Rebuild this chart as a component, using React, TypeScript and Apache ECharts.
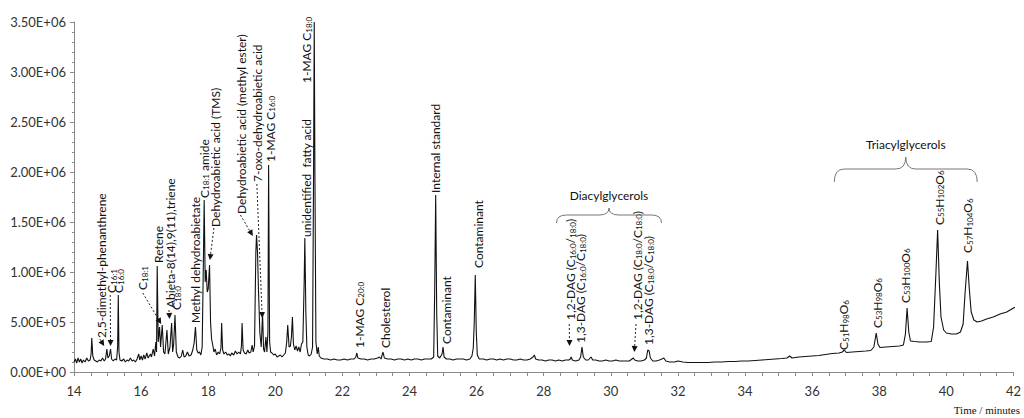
import React, { useEffect, useRef } from "react";
import * as echarts from "echarts";

// ---- DATA (intensity values in units of 1e5 counts) ----
const UNIT = 1e5;
const xTicks = [14, 16, 18, 20, 22, 24, 26, 28, 30, 32, 34, 36, 38, 40, 42];
const yMax = 3.5e6;

const traceResinAcids: [number, number][] = [
  [14.0, 1.0], [14.04, 1.3], [14.08, 0.9], [14.12, 1.4], [14.16, 1.0], [14.2, 1.3], [14.24, 0.9], [14.28, 1.2],
  [14.33, 1.0], [14.38, 1.4], [14.43, 1.1], [14.48, 1.2], [14.51, 1.8], [14.53, 3.4], [14.56, 1.6], [14.6, 1.2],
  [14.65, 1.1], [14.7, 1.0], [14.75, 1.2], [14.8, 1.1], [14.85, 1.4], [14.9, 1.1], [14.94, 1.3], [14.98, 2.3],
  [15.01, 1.4], [15.05, 1.6], [15.09, 2.3], [15.12, 1.3], [15.17, 1.1], [15.22, 1.3], [15.27, 1.2], [15.3, 2.5],
  [15.32, 7.7], [15.34, 2.0], [15.37, 1.2], [15.42, 1.1], [15.48, 1.3], [15.53, 1.0], [15.58, 1.2], [15.63, 1.1],
  [15.68, 1.4], [15.73, 1.1], [15.78, 1.2], [15.83, 1.0], [15.88, 1.3], [15.93, 1.8], [15.96, 1.2], [16.0, 1.6],
  [16.04, 1.2], [16.08, 1.7], [16.12, 1.3], [16.17, 1.9], [16.21, 1.4], [16.28, 1.8], [16.31, 1.5], [16.36, 2.3],
  [16.4, 1.6], [16.44, 3.0], [16.46, 2.0], [16.48, 10.6], [16.51, 3.0], [16.55, 4.5], [16.58, 2.5], [16.63, 4.7],
  [16.67, 2.0], [16.71, 1.8], [16.77, 4.2], [16.81, 1.8], [16.86, 2.5], [16.91, 4.9], [16.94, 2.0], [16.97, 2.8],
  [17.01, 5.7], [17.05, 2.0], [17.1, 1.5], [17.15, 1.4], [17.2, 1.6], [17.24, 2.2], [17.28, 1.5], [17.33, 1.6],
  [17.38, 2.0], [17.43, 1.6], [17.49, 1.7], [17.54, 2.2], [17.58, 2.9], [17.62, 4.5], [17.66, 2.2], [17.7, 1.9],
  [17.74, 2.0], [17.78, 1.7], [17.82, 2.5], [17.86, 12.0], [17.88, 17.2], [17.91, 9.0], [17.94, 10.2], [17.97, 8.0],
  [18.0, 8.3], [18.04, 10.7], [18.07, 5.0], [18.1, 3.3], [18.13, 2.8], [18.17, 2.0], [18.21, 2.3], [18.25, 1.7],
  [18.3, 2.0], [18.34, 1.8], [18.38, 2.4], [18.4, 4.9], [18.43, 2.2], [18.47, 1.8], [18.52, 2.0], [18.57, 1.7],
  [18.62, 1.8], [18.66, 1.6], [18.7, 1.9], [18.76, 1.7], [18.81, 2.1], [18.86, 1.8], [18.91, 2.0], [18.96, 1.8],
  [18.99, 2.6], [19.01, 4.9], [19.04, 2.2], [19.08, 1.9], [19.13, 1.8], [19.18, 2.2], [19.22, 1.9], [19.27, 2.0],
  [19.31, 2.7], [19.34, 2.0], [19.38, 2.6], [19.42, 12.0], [19.44, 13.7], [19.47, 11.9], [19.5, 8.0], [19.54, 3.9],
  [19.58, 2.5], [19.62, 5.9], [19.65, 2.3], [19.68, 2.0], [19.72, 3.5], [19.75, 2.0], [19.78, 4.0], [19.8, 20.7],
  [19.83, 3.0], [19.86, 2.0], [19.9, 1.9], [19.95, 1.7], [20.0, 1.8], [20.05, 1.5], [20.1, 1.6], [20.15, 1.7],
  [20.2, 1.5], [20.25, 1.7], [20.3, 1.9], [20.34, 3.0], [20.37, 4.7], [20.41, 2.5], [20.45, 2.6], [20.48, 3.5],
  [20.51, 5.5], [20.54, 2.8], [20.58, 2.2], [20.62, 2.6], [20.66, 2.1], [20.7, 2.5], [20.74, 2.0], [20.78, 2.8],
  [20.82, 3.0], [20.86, 9.0], [20.88, 13.4], [20.91, 6.0], [20.94, 2.5], [20.98, 1.7], [21.02, 1.6], [21.07, 1.8],
  [21.11, 2.5], [21.14, 20.0], [21.16, 35.0], [21.18, 20.0], [21.21, 3.0], [21.25, 1.8], [21.28, 2.5], [21.31, 1.6],
  [21.36, 1.4],
];

const traceMiddle: [number, number][] = [
  [21.45, 1.3], [21.55, 1.3], [21.65, 1.2], [21.75, 1.3], [21.85, 1.2], [21.95, 1.2], [22.05, 1.3], [22.15, 1.2],
  [22.25, 1.3], [22.35, 1.3], [22.4, 1.5], [22.43, 1.9], [22.46, 1.4], [22.55, 1.3], [22.65, 1.3], [22.75, 1.2],
  [22.85, 1.3], [22.95, 1.3], [23.05, 1.4], [23.1, 1.5], [23.15, 1.3], [23.21, 2.0], [23.25, 1.4], [23.35, 1.3],
  [23.45, 1.3], [23.55, 1.2], [23.65, 1.3], [23.75, 1.3], [23.85, 1.2], [23.95, 1.3], [24.05, 1.2], [24.15, 1.3],
  [24.25, 1.3], [24.35, 1.2], [24.45, 1.3], [24.55, 1.3], [24.65, 1.3], [24.72, 1.5], [24.75, 8.0], [24.78, 17.7],
  [24.81, 6.0], [24.84, 1.6], [24.9, 1.4], [24.97, 1.8], [25.0, 2.5], [25.03, 1.5], [25.1, 1.3], [25.2, 1.3],
  [25.3, 1.2], [25.4, 1.3], [25.5, 1.3], [25.6, 1.3], [25.7, 1.2], [25.8, 1.3], [25.86, 1.6], [25.9, 2.4],
  [25.93, 5.0], [25.96, 9.7], [25.99, 4.0], [26.02, 1.7], [26.08, 1.3], [26.2, 1.3], [26.3, 1.2], [26.4, 1.3],
  [26.5, 1.3], [26.6, 1.2], [26.7, 1.3], [26.8, 1.2], [26.9, 1.3], [27.0, 1.3], [27.1, 1.2], [27.2, 1.2],
  [27.3, 1.3], [27.4, 1.2], [27.5, 1.2], [27.6, 1.3], [27.68, 1.5], [27.72, 1.7], [27.76, 1.3], [27.85, 1.2],
  [27.95, 1.2], [28.05, 1.1], [28.15, 1.2], [28.25, 1.2], [28.35, 1.1], [28.45, 1.2], [28.55, 1.1], [28.65, 1.2],
  [28.75, 1.2], [28.79, 1.3], [28.82, 1.5], [28.85, 1.2], [28.95, 1.1], [29.05, 1.2], [29.1, 1.5], [29.14, 2.5],
  [29.18, 1.5], [29.25, 1.2], [29.33, 1.2], [29.41, 1.5], [29.46, 1.2], [29.55, 1.2], [29.65, 1.1], [29.75, 1.1],
  [29.85, 1.2], [29.95, 1.1], [30.05, 1.1], [30.15, 1.2], [30.25, 1.1], [30.35, 1.1], [30.45, 1.1], [30.55, 1.1],
  [30.63, 1.3], [30.67, 1.4], [30.71, 1.2], [30.8, 1.1], [30.9, 1.1], [31.0, 1.2], [31.06, 1.4], [31.1, 2.2],
  [31.14, 2.1], [31.18, 1.4], [31.25, 1.1], [31.35, 1.1], [31.45, 1.2], [31.52, 1.3], [31.58, 1.4], [31.64, 1.1],
  [31.75, 1.0], [31.9, 1.0],
];

const traceTriacylglycerols: [number, number][] = [
  [32.0, 1.1], [32.15, 1.0], [32.3, 0.95], [32.5, 0.95], [32.7, 0.95], [32.9, 0.95], [33.1, 1.0], [33.3, 1.0],
  [33.5, 1.05], [33.7, 1.05], [33.9, 1.1], [34.1, 1.1], [34.3, 1.15], [34.5, 1.2], [34.7, 1.25], [34.9, 1.3],
  [35.1, 1.35], [35.25, 1.4], [35.33, 1.6], [35.4, 1.4], [35.6, 1.5], [35.8, 1.55], [36.0, 1.6], [36.2, 1.65],
  [36.4, 1.75], [36.6, 1.85], [36.8, 1.9], [36.9, 2.0], [36.96, 2.2], [37.02, 1.95], [37.2, 2.0], [37.4, 2.05],
  [37.6, 2.1], [37.75, 2.15], [37.84, 2.5], [37.91, 3.9], [37.96, 2.8], [38.02, 2.45], [38.2, 2.5], [38.4, 2.55],
  [38.6, 2.6], [38.72, 2.7], [38.78, 3.8], [38.83, 6.4], [38.88, 4.0], [38.93, 3.1], [39.05, 3.05], [39.2, 3.0],
  [39.4, 3.0], [39.55, 3.05], [39.62, 4.5], [39.69, 10.0], [39.74, 14.2], [39.79, 9.0], [39.84, 5.5], [39.92, 4.2],
  [40.0, 3.9], [40.15, 3.8], [40.3, 3.8], [40.42, 4.0], [40.5, 4.8], [40.56, 8.0], [40.63, 11.1], [40.68, 8.5],
  [40.74, 6.0], [40.82, 5.2], [40.92, 5.0], [41.05, 5.1], [41.2, 5.3], [41.4, 5.5], [41.6, 5.8], [41.8, 6.0],
  [42.0, 6.4], [42.15, 6.6],
];

// Annotations: [time, intensity (1e5) at text start, rich text]
const peakLabels: [number, number, string][] = [
  [14.77, 3.4, "2,5-dimethyl-phenanthrene"],
  [15.08, 7.9, "C{s|16:1}"],
  [15.29, 7.9, "C{s|16:0}"],
  [16.01, 8.2, "C{s|18:1}"],
  [16.46, 10.9, "Retene"],
  [16.83, 6.4, "Abieta-8(14),9(11),triene"],
  [17.0, 6.2, "C{s|18:0}"],
  [17.58, 4.9, "Methyl dehydroabietate"],
  [17.83, 17.4, "C{s|18:1} amide"],
  [18.17, 14.5, "Dehydroabietic acid (TMS)"],
  [18.96, 15.8, "Dehydroabietic acid (methyl ester)"],
  [19.43, 19.0, "7-oxo-dehydroabietic acid"],
  [19.8, 21.0, "1-MAG C{s|16:0}"],
  [20.88, 13.5, "unidentified  fatty acid"],
  [20.89, 28.9, "1-MAG C{s|18:0}"],
  [22.46, 2.4, "1-MAG C{s|20:0}"],
  [23.23, 2.4, "Cholesterol"],
  [24.74, 17.9, "Internal standard"],
  [25.05, 2.8, "Contaminant"],
  [26.0, 10.4, "Contaminant"],
  [28.76, 5.2, "1,2-DAG (C{s|16:0}/{s|18:0})"],
  [29.06, 2.9, "1,3-DAG (C{s|16:0}/C{s|18:0})"],
  [30.75, 5.2, "1,2-DAG (C{s|18:0}/C{s|18:0})"],
  [31.09, 2.7, "1,3-DAG (C{s|18:0}/C{s|18:0})"],
  [36.9, 2.2, "C{s|51}H{s|98}O{s|6}"],
  [37.89, 4.4, "C{s|53}H{s|98}O{s|6}"],
  [38.73, 6.9, "C{s|53}H{s|100}O{s|6}"],
  [39.74, 14.7, "C{s|55}H{s|102}O{s|6}"],
  [40.6, 11.9, "C{s|57}H{s|104}O{s|6}"],
];

// Dotted arrows: [t from, I from, t to, I to]
const arrows: [number, number, number, number][] = [
  [14.77, 3.3, 14.9, 2.6],
  [15.08, 7.7, 15.09, 2.6],
  [16.05, 7.9, 16.6, 4.8],
  [16.83, 6.2, 16.85, 5.3],
  [18.17, 14.4, 18.05, 11.2],
  [18.96, 15.7, 19.33, 13.6],
  [19.45, 18.8, 19.61, 5.4],
  [28.76, 4.8, 28.77, 2.6],
  [30.75, 4.8, 30.7, 2.0],
];

// Group braces: [t start, t end, I ends, I bar, I tip, label]
const groupBraces: [number, number, number, number, number, string][] = [
  [28.38, 31.51, 14.9, 15.7, 16.4, "Diacylglycerols"],
  [36.66, 40.92, 19.0, 20.3, 21.5, "Triacylglycerols"],
];

const FONT = "Lato, 'Open Sans', sans-serif";

function sci(v: number): string {
  if (v === 0) return "0.00E+00";
  const e = Math.floor(Math.log10(v) + 1e-9);
  const m = v / Math.pow(10, e);
  return `${m.toFixed(2)}E+${String(e).padStart(2, "0")}`;
}

export default function App() {
  const ref = useRef<HTMLDivElement>(null);
  useEffect(() => {
    if (!ref.current) return;
    const chart = echarts.init(ref.current, undefined, { renderer: "svg" });
    const data = [...traceResinAcids, ...traceMiddle, ...traceTriacylglycerols].map(
      ([t, v]) => [t, v * UNIT]
    );
    const axisColor = "#8a8a8a";
    chart.setOption({
      animation: false,
      grid: { left: 74, right: 5, top: 22, bottom: 46 },
      xAxis: {
        type: "value",
        min: xTicks[0],
        max: xTicks[xTicks.length - 1],
        interval: 2,
        axisLine: { show: true, onZero: false, lineStyle: { color: axisColor, width: 1 } },
        axisTick: { show: true, length: 4, lineStyle: { color: axisColor } },
        minorTick: { show: true, splitNumber: 4, length: 4, lineStyle: { color: axisColor } },
        splitLine: { show: false },
        axisLabel: { fontSize: 13, color: "#333", fontFamily: FONT, margin: 12 },
      },
      yAxis: {
        type: "value",
        min: 0,
        max: yMax,
        interval: 5e5,
        axisLine: { show: true, lineStyle: { color: axisColor, width: 1 } },
        axisTick: { show: true, length: 4, lineStyle: { color: axisColor } },
        minorTick: { show: true, splitNumber: 5, length: 2, lineStyle: { color: axisColor } },
        splitLine: { show: false },
        axisLabel: { fontSize: 13, color: "#333", fontFamily: FONT, margin: 8, formatter: sci },
      },
      series: [
        {
          type: "line",
          data,
          showSymbol: false,
          symbol: "none",
          lineStyle: { color: "#111", width: 1.1 },
          clip: true,
        },
      ],
    });

    const px = (t: number, v: number) =>
      chart.convertToPixel({ gridIndex: 0 }, [t, v * UNIT]) as number[];

    const graphics: any[] = [];
    const rich = {
      n: { fontSize: 12, fontFamily: FONT, fill: "#111", lineHeight: 15, verticalAlign: "bottom" },
      s: { fontSize: 8, fontFamily: FONT, fill: "#111", lineHeight: 15, verticalAlign: "bottom" },
    };
    const toRich = (s: string) =>
      s
        .split(/(\{s\|[^}]*\})/)
        .filter((p) => p.length)
        .map((p) => (p.startsWith("{s|") ? p : `{n|${p}}`))
        .join("");

    peakLabels.forEach(([t, v, txt]) => {
      const [x, y] = px(t, v);
      graphics.push({
        type: "text",
        x,
        y,
        rotation: Math.PI / 2,
        silent: true,
        style: {
          text: toRich(txt),
          rich,
          fontSize: 12,
          fontFamily: FONT,
          fill: "#111",
          align: "left",
          verticalAlign: "middle",
        },
      });
    });

    arrows.forEach(([t1, v1, t2, v2]) => {
      const [x1, y1] = px(t1, v1);
      const [x2, y2] = px(t2, v2);
      const dx = x2 - x1;
      const dy = y2 - y1;
      const len = Math.sqrt(dx * dx + dy * dy) || 1;
      const ux = dx / len;
      const uy = dy / len;
      const bx = x2 - ux * 6;
      const by = y2 - uy * 6;
      graphics.push({
        type: "line",
        silent: true,
        shape: { x1, y1, x2: bx, y2: by },
        style: { stroke: "#222", lineWidth: 1, lineDash: [2, 2] },
      });
      graphics.push({
        type: "polygon",
        silent: true,
        shape: {
          points: [
            [x2, y2],
            [bx - uy * 3, by + ux * 3],
            [bx + uy * 3, by - ux * 3],
          ],
        },
        style: { fill: "#111" },
      });
    });

    groupBraces.forEach(([t0, t1, vEnd, vBar, vTip, label]) => {
      const [xL, yE] = px(t0, vEnd);
      const [xR] = px(t1, vEnd);
      const yB = px(t0, vBar)[1];
      const yT = px(t0, vTip)[1];
      const xc = (xL + xR) / 2;
      const w = 10;
      const st = { stroke: "#777", lineWidth: 1, fill: "none" };
      graphics.push(
        { type: "bezierCurve", silent: true, shape: { x1: xL, y1: yE, x2: xL + w, y2: yB, cpx1: xL, cpy1: yB }, style: st },
        { type: "line", silent: true, shape: { x1: xL + w, y1: yB, x2: xc - w, y2: yB }, style: st },
        { type: "bezierCurve", silent: true, shape: { x1: xc - w, y1: yB, x2: xc, y2: yT, cpx1: xc, cpy1: yB }, style: st },
        { type: "bezierCurve", silent: true, shape: { x1: xc, y1: yT, x2: xc + w, y2: yB, cpx1: xc, cpy1: yB }, style: st },
        { type: "line", silent: true, shape: { x1: xc + w, y1: yB, x2: xR - w, y2: yB }, style: st },
        { type: "bezierCurve", silent: true, shape: { x1: xR - w, y1: yB, x2: xR, y2: yE, cpx1: xR, cpy1: yB }, style: st }
      );
      graphics.push({
        type: "text",
        silent: true,
        x: xc,
        y: yT - 13,
        style: { text: label, fontSize: 12, fontFamily: FONT, fill: "#111", align: "center", verticalAlign: "middle" },
      });
    });

    graphics.push({
      type: "text",
      silent: true,
      right: 4,
      top: 404,
      style: { text: "Time / minutes", fontSize: 11, fontFamily: "'Liberation Serif', 'DejaVu Serif', serif", fill: "#111" },
    });

    chart.setOption({ graphic: graphics });
    return () => chart.dispose();
  }, []);
  return (
    <div
      ref={ref}
      style={{ position: "absolute", left: 0, top: 0, width: 1024, height: 418, background: "#fff" }}
    />
  );
}
